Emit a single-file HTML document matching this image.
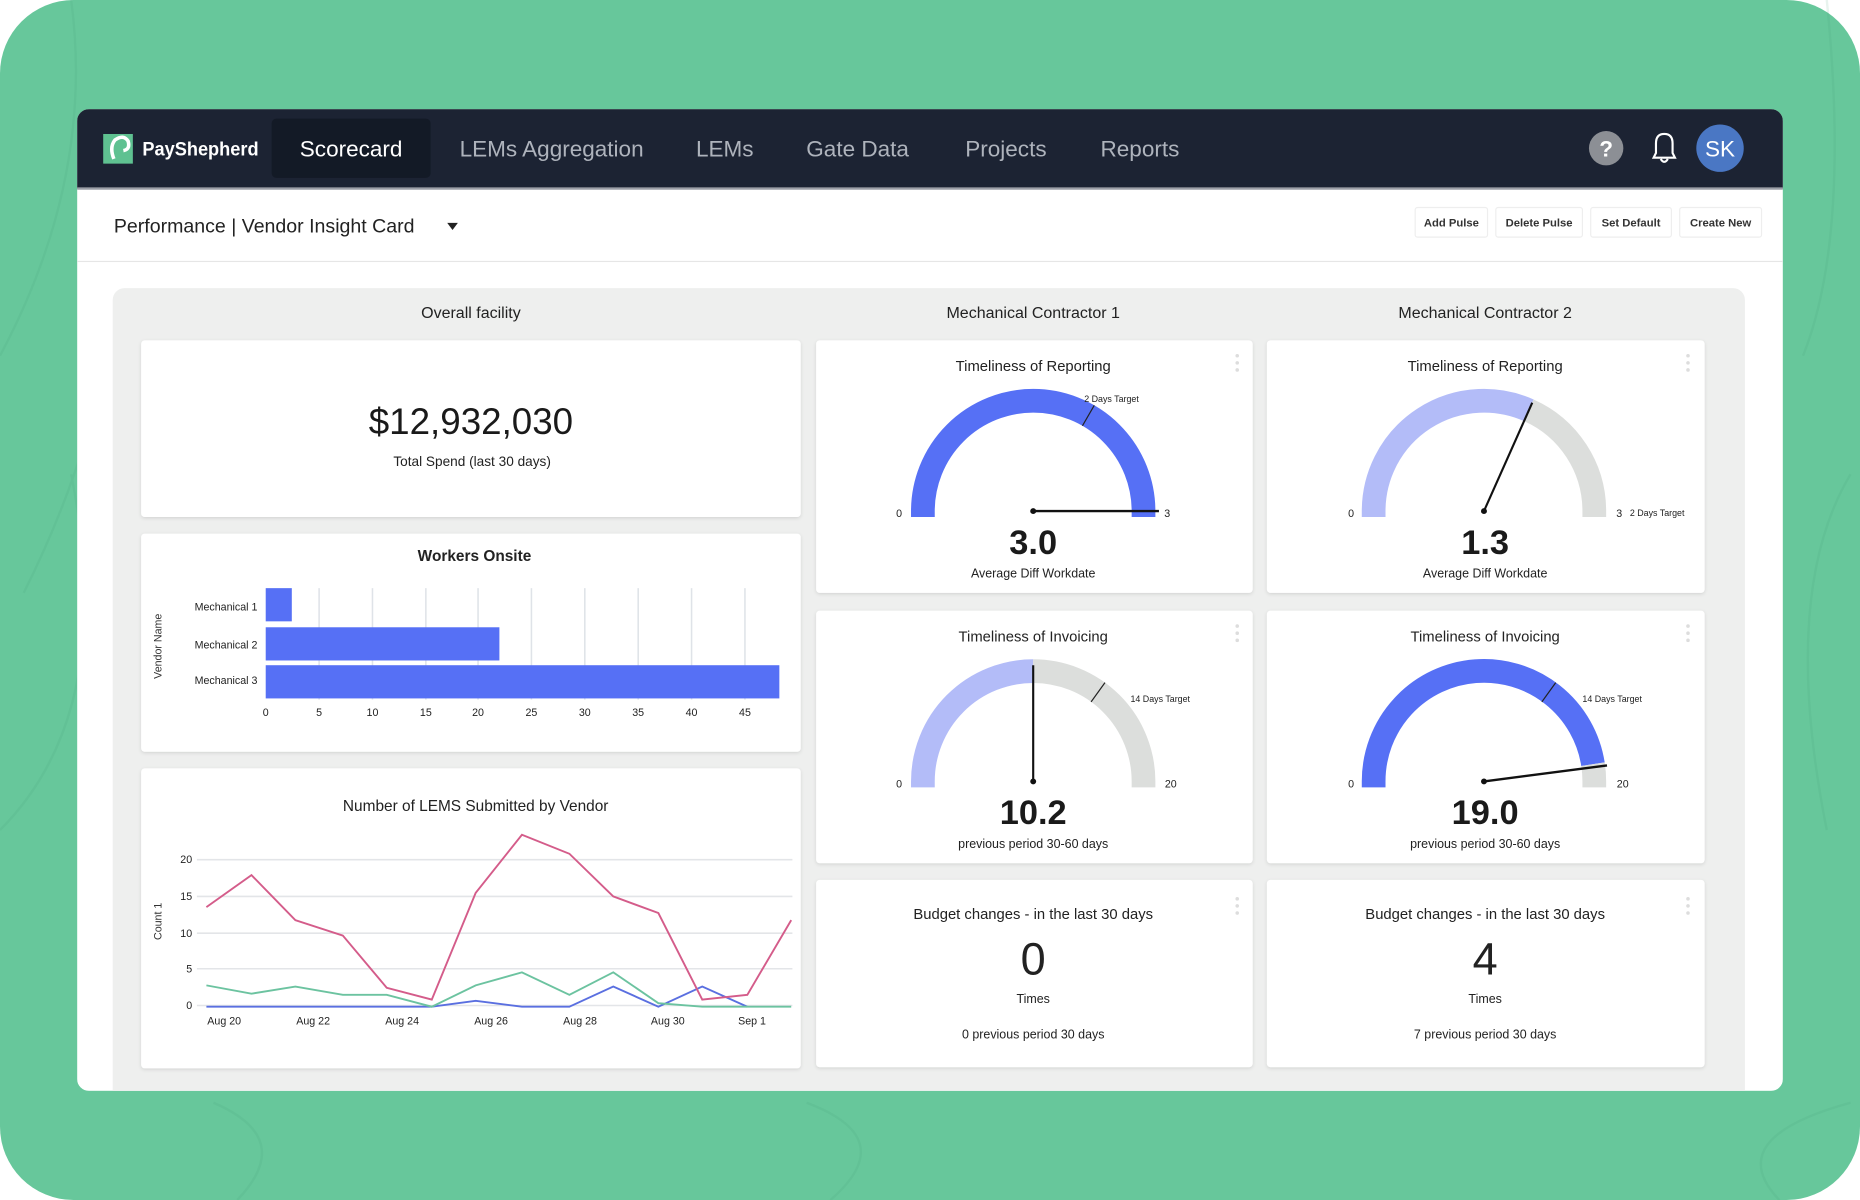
<!DOCTYPE html>
<html><head><meta charset="utf-8">
<style>
html,body{margin:0;padding:0;background:#fff;width:1860px;height:1200px;overflow:hidden}
svg{display:block}
text{font-family:"Liberation Sans",sans-serif}
</style></head>
<body>
<svg width="1860" height="1200" viewBox="0 0 1568 1012" preserveAspectRatio="none" xmlns="http://www.w3.org/2000/svg">
<defs>
<clipPath id="win"><rect x="65" y="92" width="1438" height="828" rx="10"/></clipPath>
<filter id="sh" x="-5%" y="-5%" width="110%" height="110%"><feDropShadow dx="0" dy="1" stdDeviation="1.5" flood-color="#000" flood-opacity="0.12"/></filter>
</defs>
<rect x="0" y="0" width="1568" height="1012" rx="62" fill="#67c79b"/>
<g opacity="0.12" stroke="#3f9e74" stroke-width="2" fill="none">
<path d="M0 300 Q80 150 60 0"/><path d="M20 500 Q120 300 100 100"/><path d="M0 700 Q100 600 60 400"/>
<path d="M1500 1012 Q1450 960 1560 930"/><path d="M200 1012 Q250 960 180 930"/><path d="M700 1012 Q760 960 680 930"/>
<path d="M1520 300 Q1560 200 1540 0"/><path d="M1540 700 Q1500 500 1560 400"/>
</g>
<g clip-path="url(#win)">
<rect x="65" y="92" width="1438" height="828" fill="#ffffff"/>
<rect x="65" y="92" width="1438" height="67" fill="#1c2333"/>
<rect x="65" y="158" width="1438" height="2" fill="#9a9ea6"/>
<rect x="229" y="100" width="134" height="50" rx="4" fill="#131a26"/>
<rect x="87" y="113" width="25" height="25" fill="#5fc191"/>
<path d="M96 134 Q92 124 97 118 Q104 113 108 119 Q110 126 104 127" stroke="#fff" stroke-width="3" fill="none"/>
<text x="120" y="131" font-size="16" fill="#fff" font-weight="bold" textLength="98" lengthAdjust="spacingAndGlyphs">PayShepherd</text>
<text x="296" y="132" font-size="19" fill="#fff" text-anchor="middle">Scorecard</text>
<text x="465" y="132" font-size="19" fill="#aeb3bc" text-anchor="middle">LEMs Aggregation</text>
<text x="611" y="132" font-size="19" fill="#aeb3bc" text-anchor="middle">LEMs</text>
<text x="723" y="132" font-size="19" fill="#aeb3bc" text-anchor="middle">Gate Data</text>
<text x="848" y="132" font-size="19" fill="#aeb3bc" text-anchor="middle">Projects</text>
<text x="961" y="132" font-size="19" fill="#aeb3bc" text-anchor="middle">Reports</text>
<circle cx="1354" cy="125" r="14.5" fill="#8c8f95"/>
<text x="1354" y="132" font-size="19" fill="#fff" text-anchor="middle" font-weight="bold">?</text>
<path d="M1394 133 L1396 129 L1396 121 Q1396 113 1403 113 Q1410 113 1410 121 L1410 129 L1412 133 Z" fill="none" stroke="#fff" stroke-width="1.8"/>
<path d="M1400 134 Q1403 139 1406 134" fill="none" stroke="#fff" stroke-width="1.8"/>
<circle cx="1450" cy="125" r="20" fill="#4a77c4"/>
<text x="1450" y="132" font-size="19" fill="#fff" text-anchor="middle">SK</text>

<text x="96" y="196" font-size="16.5" fill="#222">Performance | Vendor Insight Card</text>
<path d="M377 188 L386 188 L381.5 194 Z" fill="#222"/>
<rect x="65" y="220" width="1438" height="1" fill="#e6e6e6"/>
<g font-size="9.5" fill="#333" font-weight="bold" text-anchor="middle">
<rect x="1193" y="175" width="61" height="25" rx="2" fill="#fff" stroke="#eee"/><text x="1223.5" y="191">Add Pulse</text>
<rect x="1261" y="175" width="73" height="25" rx="2" fill="#fff" stroke="#eee"/><text x="1297.5" y="191">Delete Pulse</text>
<rect x="1341" y="175" width="68" height="25" rx="2" fill="#fff" stroke="#eee"/><text x="1375" y="191">Set Default</text>
<rect x="1416" y="175" width="69" height="25" rx="2" fill="#fff" stroke="#eee"/><text x="1450.5" y="191">Create New</text>
</g>

<rect x="95" y="243" width="1376" height="700" rx="10" fill="#eeefee"/>
<g font-size="13.5" fill="#222" text-anchor="middle">
<text x="397" y="268">Overall facility</text>
<text x="871" y="268">Mechanical Contractor 1</text>
<text x="1252" y="268">Mechanical Contractor 2</text>
</g>
<g fill="#fff" filter="url(#sh)">
<rect x="119" y="287" width="556" height="149" rx="3"/>
<rect x="119" y="450" width="556" height="184" rx="3"/>
<rect x="119" y="648" width="556" height="253" rx="3"/>
<rect x="688" y="287" width="368" height="213" rx="3"/>
<rect x="1068" y="287" width="369" height="213" rx="3"/>
<rect x="688" y="515" width="368" height="213" rx="3"/>
<rect x="1068" y="515" width="369" height="213" rx="3"/>
<rect x="688" y="742" width="368" height="158" rx="3"/>
<rect x="1068" y="742" width="369" height="158" rx="3"/>
</g>
<g fill="#ddd">
<circle cx="1043" cy="300" r="1.5"/><circle cx="1043" cy="306" r="1.5"/><circle cx="1043" cy="312" r="1.5"/>
<circle cx="1423" cy="300" r="1.5"/><circle cx="1423" cy="306" r="1.5"/><circle cx="1423" cy="312" r="1.5"/>
<circle cx="1043" cy="528" r="1.5"/><circle cx="1043" cy="534" r="1.5"/><circle cx="1043" cy="540" r="1.5"/>
<circle cx="1423" cy="528" r="1.5"/><circle cx="1423" cy="534" r="1.5"/><circle cx="1423" cy="540" r="1.5"/>
<circle cx="1043" cy="758" r="1.5"/><circle cx="1043" cy="764" r="1.5"/><circle cx="1043" cy="770" r="1.5"/>
<circle cx="1423" cy="758" r="1.5"/><circle cx="1423" cy="764" r="1.5"/><circle cx="1423" cy="770" r="1.5"/>
</g>

<text x="397" y="366" font-size="31" fill="#1a1a1a" text-anchor="middle">$12,932,030</text>
<text x="398" y="393" font-size="11.5" fill="#222" text-anchor="middle">Total Spend (last 30 days)</text>

<text x="400" y="473" font-size="13" font-weight="bold" fill="#222" text-anchor="middle">Workers Onsite</text>
<g stroke="#dfe3e8" stroke-width="1.3">
<line x1="269" y1="496" x2="269" y2="590"/><line x1="314" y1="496" x2="314" y2="590"/><line x1="359" y1="496" x2="359" y2="590"/>
<line x1="403" y1="496" x2="403" y2="590"/><line x1="448" y1="496" x2="448" y2="590"/><line x1="493" y1="496" x2="493" y2="590"/>
<line x1="538" y1="496" x2="538" y2="590"/><line x1="583" y1="496" x2="583" y2="590"/><line x1="628" y1="496" x2="628" y2="590"/>
</g>
<g fill="#5670f5">
<rect x="224" y="496" width="22" height="28"/>
<rect x="224" y="529" width="197" height="28"/>
<rect x="224" y="561" width="433" height="28"/>
</g>
<g font-size="9" fill="#222" text-anchor="end">
<text x="217" y="515">Mechanical 1</text><text x="217" y="547">Mechanical 2</text><text x="217" y="577">Mechanical 3</text>
</g>
<text transform="translate(136,545) rotate(-90)" font-size="9" fill="#333" text-anchor="middle">Vendor Name</text>
<g font-size="9" fill="#222" text-anchor="middle">
<text x="224" y="604">0</text><text x="269" y="604">5</text><text x="314" y="604">10</text><text x="359" y="604">15</text><text x="403" y="604">20</text><text x="448" y="604">25</text><text x="493" y="604">30</text><text x="538" y="604">35</text><text x="583" y="604">40</text><text x="628" y="604">45</text>
</g>

<text x="401" y="684" font-size="13" fill="#222" text-anchor="middle">Number of LEMS Submitted by Vendor</text>
<g stroke="#e3e5e8" stroke-width="1.3">
<line x1="166" y1="725" x2="668" y2="725"/><line x1="166" y1="756" x2="668" y2="756"/><line x1="166" y1="787" x2="668" y2="787"/><line x1="166" y1="817" x2="668" y2="817"/><line x1="166" y1="848" x2="668" y2="848"/>
</g>
<g font-size="9" fill="#222" text-anchor="end">
<text x="162" y="728">20</text><text x="162" y="759">15</text><text x="162" y="790">10</text><text x="162" y="820">5</text><text x="162" y="851">0</text>
</g>
<text transform="translate(136,777) rotate(-90)" font-size="9" fill="#333" text-anchor="middle">Count 1</text>
<g font-size="9" fill="#222" text-anchor="middle">
<text x="189" y="864">Aug 20</text><text x="264" y="864">Aug 22</text><text x="339" y="864">Aug 24</text><text x="414" y="864">Aug 26</text><text x="489" y="864">Aug 28</text><text x="563" y="864">Aug 30</text><text x="634" y="864">Sep 1</text>
</g>
<polyline fill="none" stroke="#5a6fe0" stroke-width="1.6" points="174,849 212,849 249,849 289,849 326,849 364,849 401,844 440,849 480,849 517,832 555,849 592,832 630,849"/>
<polyline fill="none" stroke="#6cc3a0" stroke-width="1.6" points="174,831 212,838 249,832 289,839 326,839 364,849 401,831 440,820 480,839 517,820 555,846 592,849 630,849 667,849"/>
<polyline fill="none" stroke="#d45c8a" stroke-width="1.6" points="174,765 212,738 249,776 289,789 326,833 364,843 401,753 440,704 480,720 517,756 555,770 592,843 630,839 667,776"/>

<g font-size="12.5" fill="#222" text-anchor="middle">
<text x="871" y="313">Timeliness of Reporting</text>
<text x="1252" y="313">Timeliness of Reporting</text>
<text x="871" y="541">Timeliness of Invoicing</text>
<text x="1252" y="541">Timeliness of Invoicing</text>
</g>
<path d="M778 436 L778 431 A93 93 0 0 1 964 431 L964 436" fill="none" stroke="#5670f5" stroke-width="20"/>
<line x1="912.5" y1="359.1" x2="922.5" y2="341.8" stroke="#222" stroke-width="1"/>
<line x1="871" y1="431" x2="977" y2="431" stroke="#111" stroke-width="2"/><circle cx="871" cy="431" r="2.5" fill="#111"/>
<text x="914" y="339" font-size="7.5" fill="#222">2 Days Target</text>
<text x="758" y="436" font-size="9" fill="#222" text-anchor="middle">0</text><text x="984" y="436" font-size="9" fill="#222" text-anchor="middle">3</text>
<text x="871" y="467" font-size="29" font-weight="bold" fill="#1a1a1a" text-anchor="middle">3.0</text>
<text x="871" y="487" font-size="10.5" fill="#222" text-anchor="middle">Average Diff Workdate</text>
<path d="M1158 436 L1158 431 A93 93 0 0 1 1288.8 346" fill="none" stroke="#b3bcf8" stroke-width="20"/>
<path d="M1288.8 346 A93 93 0 0 1 1344 431 L1344 436" fill="none" stroke="#dcdedc" stroke-width="20"/>
<line x1="1251" y1="431" x2="1291.7" y2="339.6" stroke="#111" stroke-width="1.8"/><circle cx="1251" cy="431" r="2.5" fill="#111"/>
<text x="1139" y="436" font-size="9" fill="#222" text-anchor="middle">0</text><text x="1365" y="436" font-size="9" fill="#222" text-anchor="middle">3</text>
<text x="1374" y="435" font-size="7.5" fill="#222">2 Days Target</text>
<text x="1252" y="467" font-size="29" font-weight="bold" fill="#1a1a1a" text-anchor="middle">1.3</text>
<text x="1252" y="487" font-size="10.5" fill="#222" text-anchor="middle">Average Diff Workdate</text>
<path d="M778 664 L778 659 A93 93 0 0 1 871 566" fill="none" stroke="#b3bcf8" stroke-width="20"/>
<path d="M871 566 A93 93 0 0 1 964 659 L964 664" fill="none" stroke="#dcdedc" stroke-width="20"/>
<line x1="919.8" y1="591.9" x2="931.5" y2="575.7" stroke="#222" stroke-width="1"/>
<line x1="871" y1="659" x2="871" y2="561" stroke="#111" stroke-width="1.8"/><circle cx="871" cy="659" r="2.5" fill="#111"/>
<text x="953" y="592" font-size="7.5" fill="#222">14 Days Target</text>
<text x="758" y="664" font-size="9" fill="#222" text-anchor="middle">0</text><text x="987" y="664" font-size="9" fill="#222" text-anchor="middle">20</text>
<text x="871" y="695" font-size="29" font-weight="bold" fill="#1a1a1a" text-anchor="middle">10.2</text>
<text x="871" y="715" font-size="10.5" fill="#222" text-anchor="middle">previous period 30-60 days</text>
<path d="M1158 664 L1158 659 A93 93 0 0 1 1342.9 644.5" fill="none" stroke="#5670f5" stroke-width="20"/>
<path d="M1342.9 644.5 A93 93 0 0 1 1344 659 L1344 664" fill="none" stroke="#dcdedc" stroke-width="20"/>
<line x1="1299.8" y1="591.9" x2="1311.5" y2="575.7" stroke="#222" stroke-width="1"/>
<line x1="1251" y1="659" x2="1354.7" y2="645.5" stroke="#111" stroke-width="2"/><circle cx="1251" cy="659" r="2.5" fill="#111"/>
<text x="1334" y="592" font-size="7.5" fill="#222">14 Days Target</text>
<text x="1139" y="664" font-size="9" fill="#222" text-anchor="middle">0</text><text x="1368" y="664" font-size="9" fill="#222" text-anchor="middle">20</text>
<text x="1252" y="695" font-size="29" font-weight="bold" fill="#1a1a1a" text-anchor="middle">19.0</text>
<text x="1252" y="715" font-size="10.5" fill="#222" text-anchor="middle">previous period 30-60 days</text>

<g fill="#222" text-anchor="middle">
<text x="871" y="775" font-size="12.5">Budget changes - in the last 30 days</text>
<text x="871" y="822" font-size="38">0</text>
<text x="871" y="846" font-size="10.5">Times</text>
<text x="871" y="876" font-size="10.5">0 previous period 30 days</text>
<text x="1252" y="775" font-size="12.5">Budget changes - in the last 30 days</text>
<text x="1252" y="822" font-size="38">4</text>
<text x="1252" y="846" font-size="10.5">Times</text>
<text x="1252" y="876" font-size="10.5">7 previous period 30 days</text>
</g>
</g>
</svg>
</body></html>
